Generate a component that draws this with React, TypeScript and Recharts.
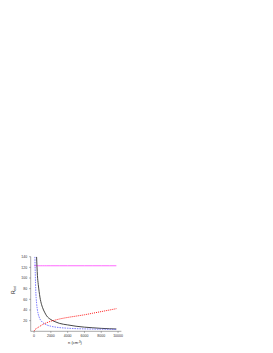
import React from 'react';
import { LineChart, Line, XAxis, YAxis } from 'recharts';

const nValues = [0, 100, 200, 300, 400, 500, 600, 700, 800, 1000, 1250, 1500, 2000, 2500, 3000, 4000, 5000, 6000, 7000, 8000, 9000, 9800];
const blackSeries = [null, null, null, 140, 105, 88, 75, 64, 56, 45, 36, 29, 22, 18, 15, 12, 9.5, 7.8, 6.6, 5.5, 4.8, 4.3];
const blueSeries = [null, 140, 78, 53, 40, 32, 27, 23, 20.5, 17, 14, 12, 9.5, 8, 7, 5.8, 5, 4.5, 4.2, 4, 3.8, 3.6];
const redSeries = [0, 3, 4.5, 5.5, 6.5, 7.5, 8.5, 9.5, 10.5, 12.5, 14.5, 16, 19, 21, 23, 26, 28.5, 31, 34, 37, 40, 42.5];
const magentaSeries = [123, 123, 123, 123, 123, 123, 123, 123, 123, 123, 123, 123, 123, 123, 123, 123, 123, 123, 123, 123, 123, 123];
const xTicks = [0, 2000, 4000, 6000, 8000, 10000];
const yTicks = [20, 40, 60, 80, 100, 120, 140];

const data = nValues.map((n, i) => ({
  n,
  black: blackSeries[i],
  blue: blueSeries[i],
  red: redSeries[i],
  magenta: magentaSeries[i],
}));

const YLabel = (props: any) => {
  const vb = props.viewBox || {};
  const cx = 15;
  const cy = (vb.y ?? 256) + (vb.height ?? 75) / 2 - 4;
  return (
    <text x={cx} y={cy} transform={`rotate(-90 ${cx} ${cy})`} textAnchor="middle" fontSize={4.5} fill="#222" fontFamily="Liberation Sans, Arial, sans-serif">
      R<tspan fontSize={3} dy={1}>ext</tspan>
    </text>
  );
};

const XLabel = (props: any) => {
  return (
    <text x={75} y={344} textAnchor="middle" fontSize={4} fill="#222" fontFamily="Liberation Sans, Arial, sans-serif">
      n (cm<tspan fontSize={2.8} dy={-1.5}>-3</tspan><tspan dy={1.5}>)</tspan>
    </text>
  );
};

export default function App() {
  return (
    <div style={{ position: 'absolute', left: 0, top: 0, width: 273, height: 353, background: '#fff' }}>
      <LineChart
        width={273}
        height={353}
        data={data}
        margin={{ top: 256.7, right: 151.6, bottom: 0, left: 0 }}
      >
        <XAxis
          dataKey="n"
          type="number"
          domain={[-400, 10400]}
          ticks={xTicks}
          height={21.7}
          tickSize={1.5}
          tick={{ fontSize: 3.5, fill: '#333', fontFamily: 'Liberation Sans, Arial, sans-serif' }}
          stroke="#555"
          strokeWidth={0.5}
          interval={0}
          label={<XLabel />}
        />
        <YAxis
          type="number"
          domain={[0, 140]}
          ticks={yTicks}
          width={30.7}
          tickSize={1.5}
          allowDataOverflow
          tick={{ fontSize: 3.5, fill: '#333', fontFamily: 'Liberation Sans, Arial, sans-serif' }}
          stroke="#555"
          strokeWidth={0.5}
          interval={0}
          label={<YLabel />}
        />
        <Line dataKey="magenta" stroke="#ff44ff" strokeWidth={0.8} dot={false} isAnimationActive={false} type="linear" />
        <Line dataKey="black" stroke="#333" strokeWidth={0.9} dot={false} isAnimationActive={false} type="monotone" />
        <Line dataKey="blue" stroke="#5a5aff" strokeWidth={0.8} strokeDasharray="1.5 1" dot={false} isAnimationActive={false} type="monotone" />
        <Line dataKey="red" stroke="#ff1a1a" strokeWidth={1} strokeDasharray="1 1" dot={false} isAnimationActive={false} type="monotone" />
      </LineChart>
    </div>
  );
}
